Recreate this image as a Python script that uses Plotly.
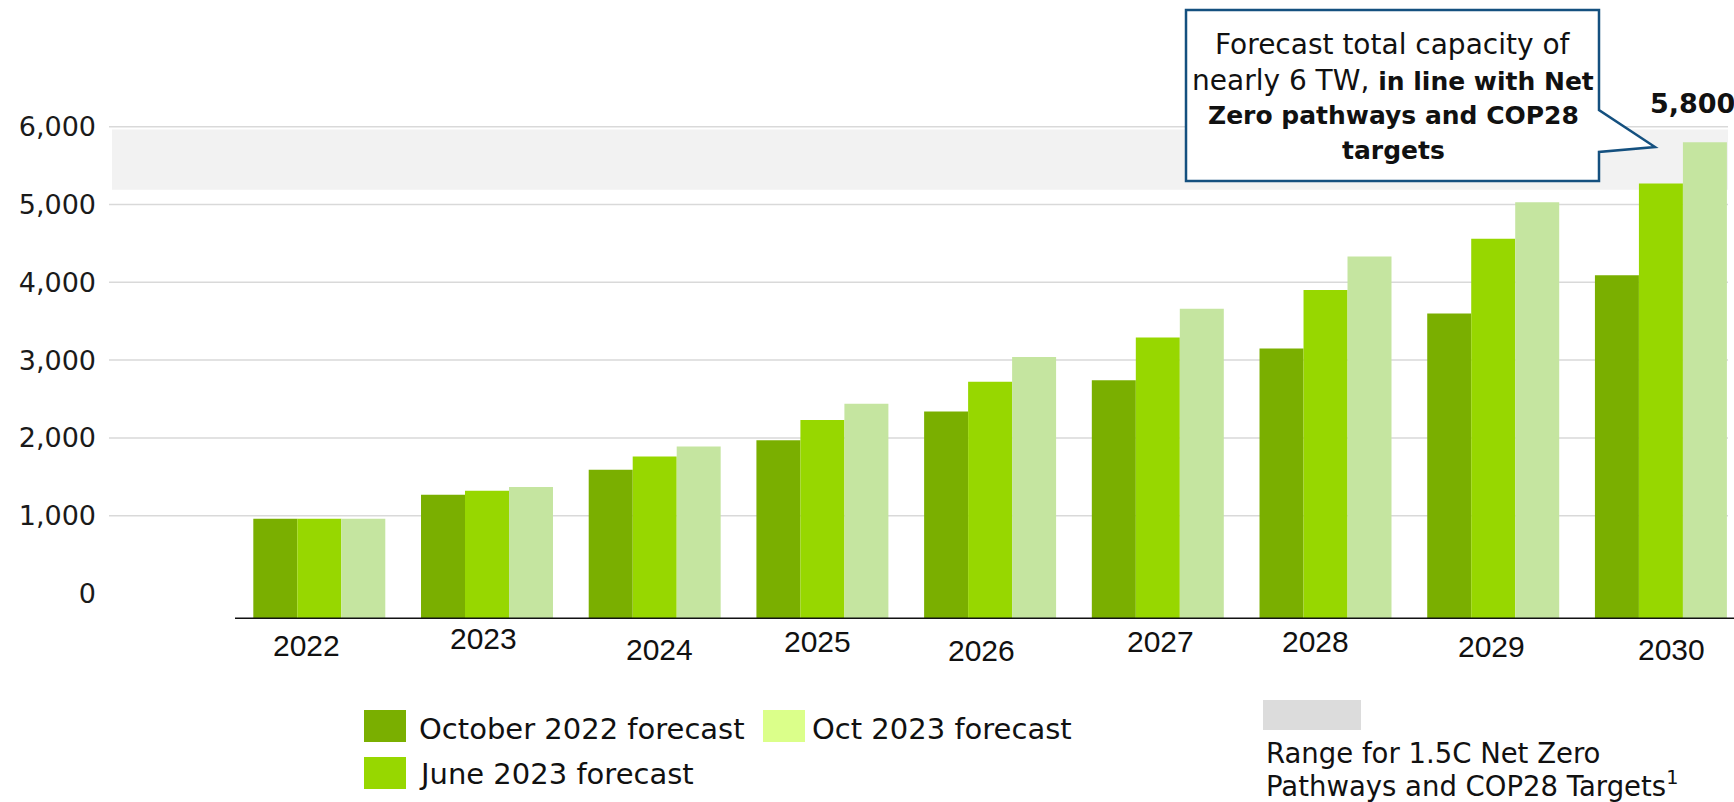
import plotly.graph_objects as go

# Installed capacity forecasts (GW) by year
years = ["2022", "2023", "2024", "2025", "2026", "2027", "2028", "2029", "2030"]
oct_2022_forecast = [960, 1270, 1590, 1970, 2340, 2740, 3150, 3600, 4090]
june_2023_forecast = [960, 1320, 1760, 2230, 2720, 3290, 3900, 4560, 5270]
oct_2023_forecast = [960, 1370, 1890, 2440, 3040, 3660, 4330, 5030, 5800]

series_names = ["October 2022 forecast", "June 2023 forecast", "Oct 2023 forecast"]
bar_colors = ["#7aaf00", "#97d700", "#c5e5a0"]
legend_colors = ["#7aaf00", "#97d700", "#dbff8a"]

# Net Zero / COP28 target range
target_low, target_high = 5190, 5965
y_ticks = [0, 1000, 2000, 3000, 4000, 5000, 6000]
callout_value = oct_2023_forecast[-1]

W, H = 1734, 802
PL, PR, PT, PB = 109, 1728, 100, 619
Y_MIN, Y_MAX = -328, 6343

# hand-placed year labels: horizontal nudge and vertical centre (px)
year_label_dx = [-13, -4, 5, -5, -9, 3, -10, -2, 11]
year_label_cy = [645, 638, 649, 641, 650, 641, 641, 646, 649]


def px(x):
    return (x - PL) / (PR - PL)


def py(y):
    return (PB - y) / (PB - PT)


GOTHIC = "DejaVu Sans"

fig = go.Figure()
for name, vals, col in zip(series_names,
                           [oct_2022_forecast, june_2023_forecast, oct_2023_forecast],
                           bar_colors):
    fig.add_trace(go.Bar(
        x=years, y=[v - Y_MIN for v in vals], base=Y_MIN,
        name=name, marker=dict(color=col, line=dict(width=0)),
        showlegend=False,
    ))

shapes = []
# target band
shapes.append(dict(type="rect", xref="paper", yref="y", x0=px(112), x1=1.0,
                   y0=target_low, y1=target_high, fillcolor="#f2f2f2",
                   line=dict(width=0), layer="below"))
# gridlines (none at zero)
for t in y_ticks[1:]:
    shapes.append(dict(type="line", xref="paper", yref="y", x0=0, x1=1,
                       y0=t, y1=t, line=dict(color="#d9d9d9", width=1.5),
                       layer="below"))
# category axis baseline
shapes.append(dict(type="line", xref="paper", yref="y", x0=px(235), x1=px(1734),
                   y0=Y_MIN, y1=Y_MIN, line=dict(color="#111111", width=3)))
# callout box
pts = [(1186, 10), (1599, 10), (1599, 110), (1655, 147), (1599, 152),
       (1599, 181), (1186, 181)]
path = "M " + " L ".join(f"{px(a):.5f},{py(b):.5f}" for a, b in pts) + " Z"
shapes.append(dict(type="path", xref="paper", yref="paper", path=path,
                   fillcolor="white", line=dict(color="#14507f", width=2.5)))
# legend swatches
for (x0, y0), col in zip([(364, 710), (364, 757), (763, 710)], legend_colors):
    shapes.append(dict(type="rect", xref="paper", yref="paper",
                       x0=px(x0), x1=px(x0 + 42), y0=py(y0), y1=py(y0 + 32),
                       fillcolor=col, line=dict(width=0)))
shapes.append(dict(type="rect", xref="paper", yref="paper",
                   x0=px(1263), x1=px(1361), y0=py(700), y1=py(730),
                   fillcolor="#dcdcdc", line=dict(width=0)))

annotations = []


def note(text, x, y, size, family, xanchor="left", color="#111111"):
    annotations.append(dict(text=text, x=px(x), y=py(y), xref="paper", yref="paper",
                            xanchor=xanchor, yanchor="middle", showarrow=False,
                            font=dict(size=size, family=family, color=color)))


BOLD = '<span style="font-size:25px"><b>{}</b></span>'
box_lines = ["Forecast total capacity of",
             "nearly 6 TW, " + BOLD.format("in line with Net"),
             BOLD.format("Zero pathways and COP28"),
             BOLD.format("targets")]
for line, yy in zip(box_lines, [45, 80, 116, 150]):
    note(line, 1393, yy, 28, GOTHIC, xanchor="center")

note(f"<b>{callout_value:,}</b>", 1692, 104, 27, GOTHIC, xanchor="center")

note(series_names[0], 417, 729, 29, "DejaVu Sans")
note(series_names[1], 417, 774, 29, "DejaVu Sans")
note(series_names[2], 810, 729, 29, "DejaVu Sans")
note("Range for 1.5C Net Zero", 1264, 753, 27.5, GOTHIC)
note("Pathways and COP28 Targets<sup>1</sup>", 1264, 784, 27.5, GOTHIC)

# year labels under each group
for i, (yr, dx, cy) in enumerate(zip(years, year_label_dx, year_label_cy)):
    annotations.append(dict(text=yr, x=i, y=py(cy), xref="x", yref="paper",
                            xshift=dx, xanchor="center", yanchor="middle",
                            showarrow=False,
                            font=dict(size=30, family="Liberation Sans",
                                      color="#111111")))

fig.update_layout(
    width=W, height=H,
    margin=dict(l=PL, r=W - PR, t=PT, b=H - PB),
    paper_bgcolor="white", plot_bgcolor="rgba(0,0,0,0)",
    barmode="group", bargap=0.213, bargroupgap=0,
    shapes=shapes, annotations=annotations,
    showlegend=False,
)
fig.update_xaxes(type="category", range=[-1.254, 8.40], showgrid=False,
                 showline=False, zeroline=False, ticks="", showticklabels=False)
fig.update_yaxes(range=[Y_MIN, Y_MAX], tickvals=y_ticks,
                 ticktext=[f"{v:,}" for v in y_ticks],
                 showgrid=False, zeroline=False, showline=False, ticks="",
                 tickfont=dict(size=27, family=GOTHIC, color="#1a1a1a"),
                 ticklabelstandoff=12)

fig.write_html("out.html")
